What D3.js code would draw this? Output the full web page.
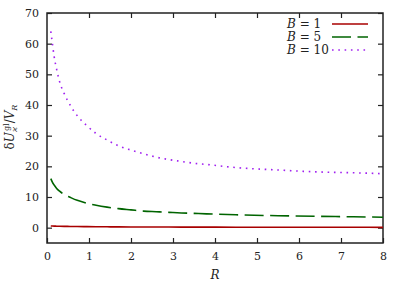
<!DOCTYPE html>
<html>
<head>
<meta charset="utf-8">
<script src="https://cdn.jsdelivr.net/npm/d3@7"></script>
<style>
  body { margin: 0; background: #fff; }
</style>
</head>
<body>
<div id="chart"></div>
<script>
// values
var rValues = [0.09, 0.13, 0.17, 0.23, 0.3, 0.41, 0.55, 0.72, 0.93, 1.17, 1.43, 1.7, 2.0, 2.3, 2.6, 2.9, 3.2, 3.5, 3.8, 4.5, 5.5, 6.4, 7.3, 8.0];
var b1Values = [0.55, 0.52, 0.5, 0.48, 0.45, 0.42, 0.4, 0.36, 0.33, 0.3, 0.28, 0.26, 0.24, 0.22, 0.21, 0.2, 0.19, 0.18, 0.17, 0.16, 0.14, 0.13, 0.12, 0.11];
var b5Values = [16.0, 14.8, 13.9, 12.8, 11.9, 10.8, 9.9, 8.9, 8.0, 7.3, 6.7, 6.2, 5.8, 5.4, 5.2, 5.0, 4.8, 4.65, 4.5, 4.2, 3.9, 3.7, 3.55, 3.4];
var b10Values = [64.0, 59.9, 55.8, 51.6, 47.6, 43.7, 40.0, 36.5, 33.5, 30.7, 28.6, 26.7, 25.3, 24.1, 23.0, 22.2, 21.6, 21.0, 20.6, 19.6, 18.8, 18.2, 17.9, 17.6];
var seriesNames = ["B = 1", "B = 5", "B = 10"];
var xTicks = [0, 1, 2, 3, 4, 5, 6, 7, 8];
var yTicks = [0, 10, 20, 30, 40, 50, 60, 70];

var font = "DejaVu Serif";
var width = 407, height = 285;
var margin = {left: 47, right: 24, top: 13, bottom: 42};

var svg = d3.select("#chart").append("svg")
  .attr("width", width)
  .attr("height", height)
  .attr("font-family", font);

var x = d3.scaleLinear().domain([0, 8]).range([margin.left, width - margin.right]);
var y = d3.scaleLinear().domain([-5, 70]).range([height - margin.bottom, margin.top]);

// ticks inside, mirrored on top and right
var tk = 5;
svg.append("g").attr("transform", "translate(0," + y(-5) + ")")
  .call(d3.axisBottom(x).tickValues(xTicks).tickSize(-tk).tickPadding(9).tickFormat(d3.format("d")));
svg.append("g").attr("transform", "translate(0," + y(70) + ")")
  .call(d3.axisTop(x).tickValues(xTicks.slice(1, -1)).tickSize(-tk).tickFormat(""));
svg.append("g").attr("transform", "translate(" + x(0) + ",0)")
  .call(d3.axisLeft(y).tickValues(yTicks).tickSize(-tk).tickPadding(8).tickFormat(d3.format("d")));
svg.append("g").attr("transform", "translate(" + x(8) + ",0)")
  .call(d3.axisRight(y).tickValues(yTicks).tickSize(-tk).tickFormat(""));

svg.selectAll("g").attr("font-family", font);
svg.selectAll(".domain").remove();
svg.selectAll(".tick line").attr("stroke", "#222").attr("stroke-width", 1.2);
svg.selectAll(".tick text").attr("font-size", 11).attr("fill", "#222");

// frame
svg.append("rect")
  .attr("x", x(0)).attr("y", y(70))
  .attr("width", x(8) - x(0)).attr("height", y(-5) - y(70))
  .attr("fill", "none").attr("stroke", "#222").attr("stroke-width", 1.5);

var series = [
  {name: seriesNames[0], values: b1Values, color: "#a80000", dash: null},
  {name: seriesNames[1], values: b5Values, color: "#006400", dash: "19,6.5"},
  {name: seriesNames[2], values: b10Values, color: "#a020f0", dash: "1.6,4.7"}
];

var line = d3.line()
  .x(function(d, i) { return x(rValues[i]); })
  .y(function(d) { return y(d); })
  .curve(d3.curveMonotoneX);

series.forEach(function(s) {
  svg.append("path")
    .attr("d", line(s.values))
    .attr("fill", "none")
    .attr("stroke", s.color)
    .attr("stroke-width", 1.6)
    .attr("stroke-dasharray", s.dash);
});

// legend
var legend = svg.append("g");
series.forEach(function(s, i) {
  var ly = 24 + i * 13;
  var parts = s.name.split(" = ");
  var t = legend.append("text").attr("x", 287).attr("y", ly + 4)
    .attr("font-size", 12).attr("fill", "#222");
  t.append("tspan").attr("font-style", "italic").text(parts[0]);
  t.append("tspan").text(" = " + parts[1]);
  legend.append("line")
    .attr("x1", 332).attr("x2", 368).attr("y1", ly).attr("y2", ly)
    .attr("stroke", s.color).attr("stroke-width", 1.6)
    .attr("stroke-dasharray", s.dash);
});

// axis titles
svg.append("text")
  .attr("x", x(4)).attr("y", 279).attr("fill", "#222")
  .attr("text-anchor", "middle").attr("font-size", 12).attr("font-style", "italic")
  .text("R");

var yl = svg.append("text")
  .attr("transform", "translate(14,127) rotate(-90)").attr("fill", "#222")
  .attr("text-anchor", "middle").attr("font-size", 12);
yl.append("tspan").text("δ");
yl.append("tspan").attr("font-style", "italic").text("U");
yl.append("tspan").attr("font-size", 8).attr("font-style", "italic").attr("dy", 3).text("ϰ");
yl.append("tspan").attr("font-size", 8).attr("dx", -4).attr("dy", -8).text("gl");
yl.append("tspan").attr("dy", 5).text("/");
yl.append("tspan").attr("font-style", "italic").text("V");
yl.append("tspan").attr("font-size", 8).attr("font-style", "italic").attr("dy", 3).text("R");
</script>
</body>
</html>
